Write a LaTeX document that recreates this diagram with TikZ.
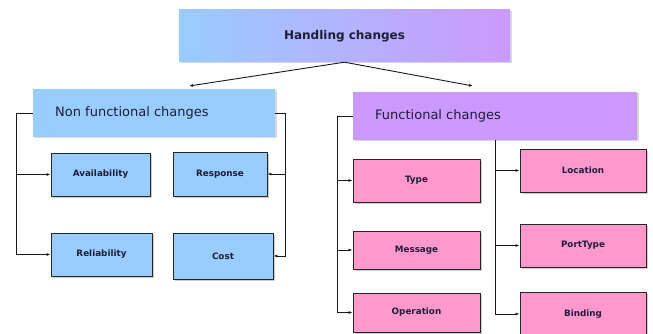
\documentclass[tikz,border=0pt]{standalone}
\usepackage{fontspec}
\setmainfont{DejaVu Sans}
\usetikzlibrary{shadows,arrows.meta}
\definecolor{lblue}{HTML}{99CCFF}
\definecolor{lviolet}{HTML}{CC99FF}
\definecolor{lpink}{HTML}{FF99CC}
\definecolor{txt}{HTML}{1E1E3A}
\tikzset{
  headbox/.style={inner sep=0pt, text=txt,
    drop shadow={shadow xshift=1.5pt, shadow yshift=-1.5pt, fill=black!30, opacity=.5}},
  headtext/.style={text=txt, font=\fontsize{13}{15}\selectfont, anchor=west, inner sep=0pt},
  leafbox/.style={draw=black!85, line width=0.9pt, inner sep=0pt, text=txt,
    font=\fontsize{8.8}{10}\selectfont\bfseries,
    drop shadow={shadow xshift=1.5pt, shadow yshift=-1.5pt, fill=black!40, opacity=.5}},
  conn/.style={line width=0.9pt, black!90, -{Latex[length=4pt,width=3pt]}},
  plain/.style={line width=0.9pt, black!90}
}
\begin{document}
\begin{tikzpicture}[x=1pt,y=-1pt]
\useasboundingbox (0,0) rectangle (653,334);
% top
\node[headbox, left color=lblue, right color=lviolet, minimum width=331pt, minimum height=52pt,
  font=\fontsize{12}{14}\selectfont\bfseries] (top) at (344.5,36) {Handling changes};
% second level
\node[headbox, fill=lblue, minimum width=242pt, minimum height=48pt] (nf) at (154,113) {};
\node[headtext] (nft) at (55,113) {Non functional changes};
\node[headbox, fill=lviolet, minimum width=284pt, minimum height=48pt] (fc) at (495,116) {};
\node[headtext] (fct) at (375,116) {Functional changes};
% leaves left
\node[leafbox, fill=lblue, minimum width=99pt, minimum height=43pt] (avail) at (100.5,174.5) {Availability};
\node[leafbox, fill=lblue, minimum width=94pt, minimum height=44pt] (resp) at (220,174) {Response};
\node[leafbox, fill=lblue, minimum width=101pt, minimum height=43pt] (rel) at (101.5,254.5) {Reliability};
\node[leafbox, fill=lblue, minimum width=100pt, minimum height=46pt] (cost) at (223,256) {Cost};
% leaves right
\node[leafbox, fill=lpink, minimum width=127pt, minimum height=43pt] (type) at (416.5,180.5) {Type};
\node[leafbox, fill=lpink, minimum width=127pt, minimum height=38pt] (msg) at (416.5,250) {Message};
\node[leafbox, fill=lpink, minimum width=127pt, minimum height=39pt] (op) at (416.5,312.5) {Operation};
\node[leafbox, fill=lpink, minimum width=126pt, minimum height=43pt] (loc) at (583,170.5) {Location};
\node[leafbox, fill=lpink, minimum width=126pt, minimum height=43pt] (pt) at (583,245.5) {PortType};
\node[leafbox, fill=lpink, minimum width=126pt, minimum height=44pt] (bind) at (583,314) {Binding};
% connectors
\coordinate (a1) at (189,86);
\coordinate (a2) at (473,86);
\draw[conn] (top.south) -- (a1);
\draw[conn] (top.south) -- (a2);
\coordinate (nl) at (16,113);
\coordinate (nr) at (285,113);
\draw[plain] (nf.west) -- (nl);
\draw[conn] (nl) |- (avail.west);
\draw[conn] (nl) |- (rel.west);
\draw[plain] (nf.east) -- (nr);
\draw[conn] (nr) |- (resp.east);
\draw[conn] (nr) |- (cost.east);
\coordinate (fl) at (337,116);
\draw[plain] (fc.west) -- (fl);
\draw[conn] (fl) |- (type.west);
\draw[conn] (fl) |- (msg.west);
\draw[conn] (fl) |- (op.west);
\draw[conn] (fc.south) |- (loc.west);
\draw[conn] (fc.south) |- (pt.west);
\draw[conn] (fc.south) |- (bind.west);
\end{tikzpicture}
\end{document}
